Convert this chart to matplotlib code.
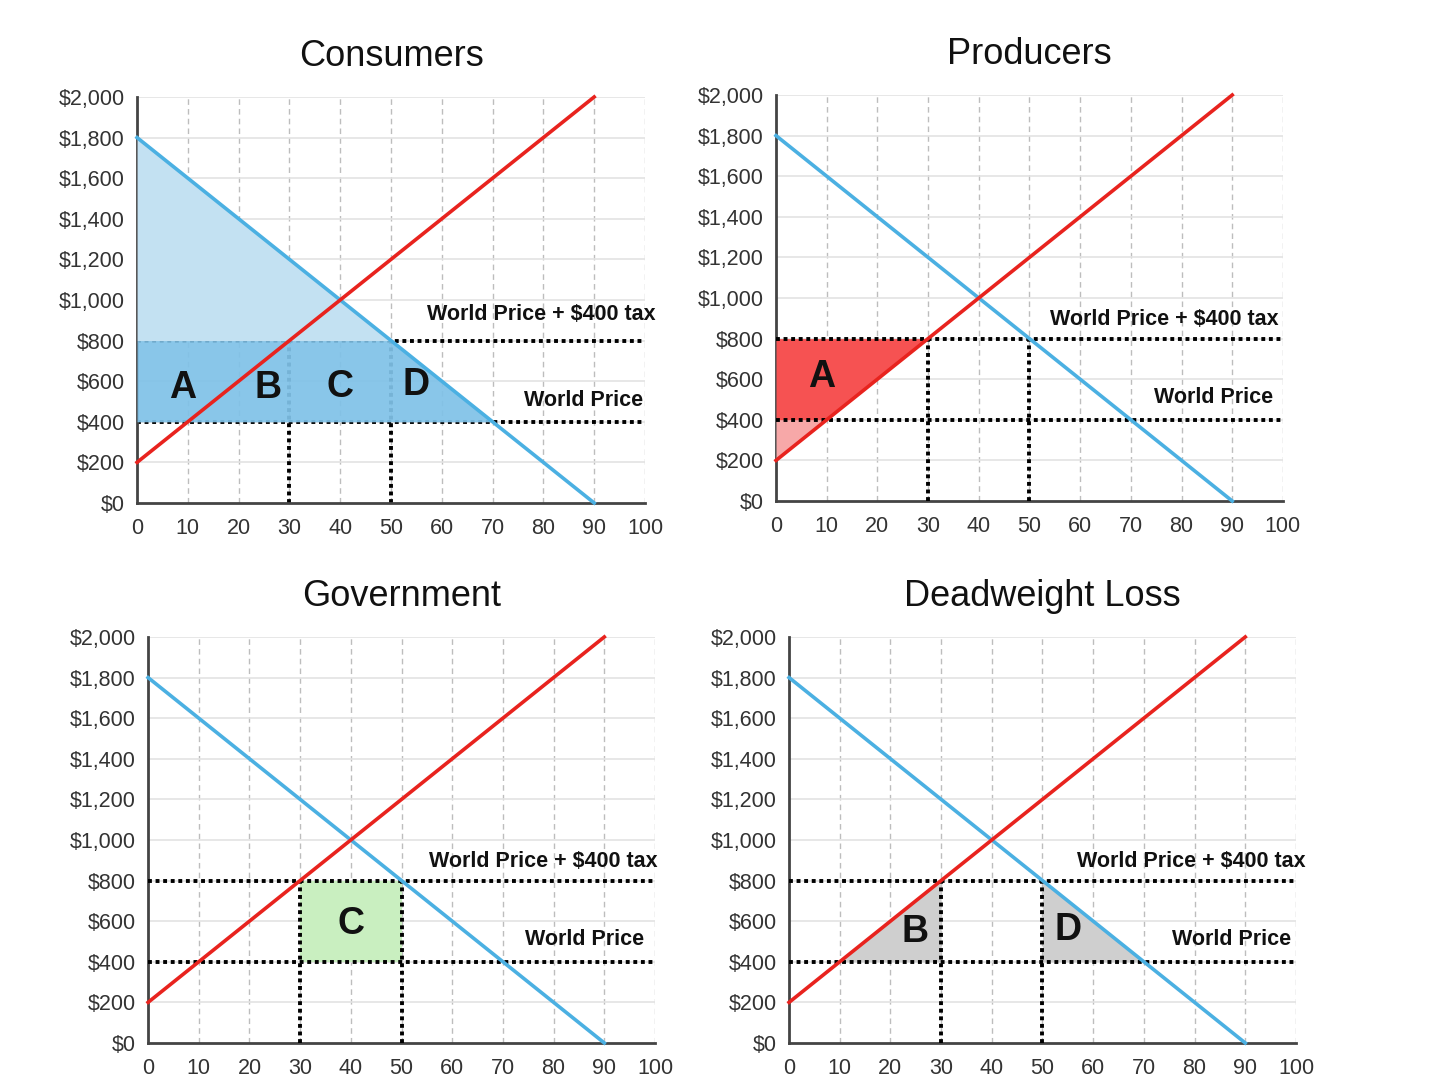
import matplotlib
matplotlib.use("Agg")
import matplotlib.pyplot as plt
from matplotlib.ticker import FuncFormatter
import numpy as np

plt.rcParams["font.family"] = ["Liberation Sans", "DejaVu Sans"]

# кривые спроса и предложения (две точки каждой)
quantity = [0, 90]
supply_price = [200, 2000]
demand_price = [1800, 0]
world_price = 400
tax = 400
x_ticks = list(range(0, 101, 10))
y_ticks = list(range(0, 2001, 200))

RED = "#e8231e"
BLUE = "#4bb0e2"


def supply(q):
    return np.interp(q, quantity, supply_price)


def demand(q):
    return np.interp(q, quantity, demand_price)


def qty_at(price, curve_price):
    # обратная интерполяция: количество при заданной цене
    if curve_price[0] < curve_price[-1]:
        return float(np.interp(price, curve_price, quantity))
    return float(np.interp(price, curve_price[::-1], quantity[::-1]))


taxed = world_price + tax
qs_w = qty_at(world_price, supply_price)
qs_t = qty_at(taxed, supply_price)
qd_w = qty_at(world_price, demand_price)
qd_t = qty_at(taxed, demand_price)


def base_axes(fig, rect, title, dots_z):
    ax = fig.add_axes(rect)
    ax.set_xlim(0, 100)
    ax.set_ylim(0, 2000)
    ax.set_xticks(x_ticks)
    ax.set_yticks(y_ticks)
    ax.yaxis.set_major_formatter(FuncFormatter(lambda v, p: "${:,.0f}".format(v)))
    ax.tick_params(length=0, labelsize=15.5, colors="#333333")
    ax.tick_params(axis="x", pad=11)
    ax.tick_params(axis="y", pad=9)
    for v in x_ticks[1:]:
        ax.axvline(v, color="#bdbdbd", lw=1, ls=(0, (4, 3)), zorder=0)
    for v in y_ticks[1:]:
        ax.axhline(v, color="#e3e3e3", lw=1.2, zorder=0)
    for s in ["top", "right"]:
        ax.spines[s].set_visible(False)
    for s in ["left", "bottom"]:
        ax.spines[s].set_color("#444444")
        ax.spines[s].set_linewidth(2)
    ax.set_title(title, fontsize=26, pad=22, color="#111111")
    dot = dict(color="black", lw=2.8, ls=(0, (1, 0.95)), zorder=dots_z)
    ax.plot([0, 100], [taxed, taxed], **dot)
    ax.plot([0, 100], [world_price, world_price], **dot)
    ax.plot([qs_t, qs_t], [0, taxed], **dot)
    ax.plot([qd_t, qd_t], [0, taxed], **dot)
    ax.plot(quantity, demand_price, color=BLUE, lw=2.6, zorder=5, clip_on=False)
    ax.plot(quantity, supply_price, color=RED, lw=2.6, zorder=6, clip_on=False)
    return ax


def labels(ax, tax_pos, wp_pos):
    ax.text(tax_pos[0], tax_pos[1], "World Price + $400 tax", ha="right", va="center",
            fontsize=15.5, fontweight="bold", color="#111111", zorder=7, clip_on=False)
    ax.text(wp_pos[0], wp_pos[1], "World Price", ha="right", va="center",
            fontsize=15.5, fontweight="bold", color="#111111", zorder=7, clip_on=False)


def letter(ax, x, y, s):
    ax.text(x, y, s, ha="center", va="center", fontsize=27, fontweight="bold",
            color="#111111", zorder=8)


fig = plt.figure(figsize=(14.32, 10.92), dpi=100)
fig.patch.set_facecolor("white")

# Consumers
ax = base_axes(fig, [0.0957, 0.5394, 0.3547, 0.3718], "Consumers", dots_z=2)
q = np.linspace(0, qd_t, 200)
ax.fill_between(q, taxed, demand(q), color="#c3e1f2", lw=0, zorder=3)
q = np.linspace(0, qd_w, 200)
ax.fill_between(q, world_price, np.minimum(demand(q), taxed), color="#80c2e8",
                alpha=0.93, lw=0, zorder=3)
labels(ax, (102, 926), (99.6, 507))
letter(ax, 9, 566, "A")
letter(ax, 25.8, 566, "B")
letter(ax, 40, 572, "C")
letter(ax, 55, 581, "D")

# Producers
ax = base_axes(fig, [0.5419, 0.5412, 0.3540, 0.3718], "Producers", dots_z=4)
q = np.linspace(0, qs_w, 100)
ax.fill_between(q, supply(q), world_price, color="#f7a8a8", lw=0, zorder=3)
q = np.linspace(0, qs_t, 200)
ax.fill_between(q, np.maximum(supply(q), world_price), taxed, color="#f65252",
                lw=0, zorder=3)
labels(ax, (99.2, 892), (98, 512))
letter(ax, 9, 611, "A")

# Government
ax = base_axes(fig, [0.1034, 0.0449, 0.3540, 0.3718], "Government", dots_z=4)
ax.fill_between([qs_t, qd_t], world_price, taxed, color="#c9efc0", lw=0, zorder=3)
labels(ax, (100.6, 892), (97.8, 512))
letter(ax, 40, 586, "C")

# Deadweight Loss
ax = base_axes(fig, [0.5510, 0.0449, 0.3540, 0.3718], "Deadweight Loss", dots_z=4)
q = np.linspace(qs_w, qs_t, 100)
ax.fill_between(q, world_price, supply(q), color="#cfcfcf", lw=0, zorder=3)
q = np.linspace(qd_t, qd_w, 100)
ax.fill_between(q, world_price, demand(q), color="#cfcfcf", lw=0, zorder=3)
labels(ax, (102, 892), (99, 512))
letter(ax, 24.9, 547, "B")
letter(ax, 55, 557, "D")

fig.savefig("out.png", dpi=100, facecolor="white")
